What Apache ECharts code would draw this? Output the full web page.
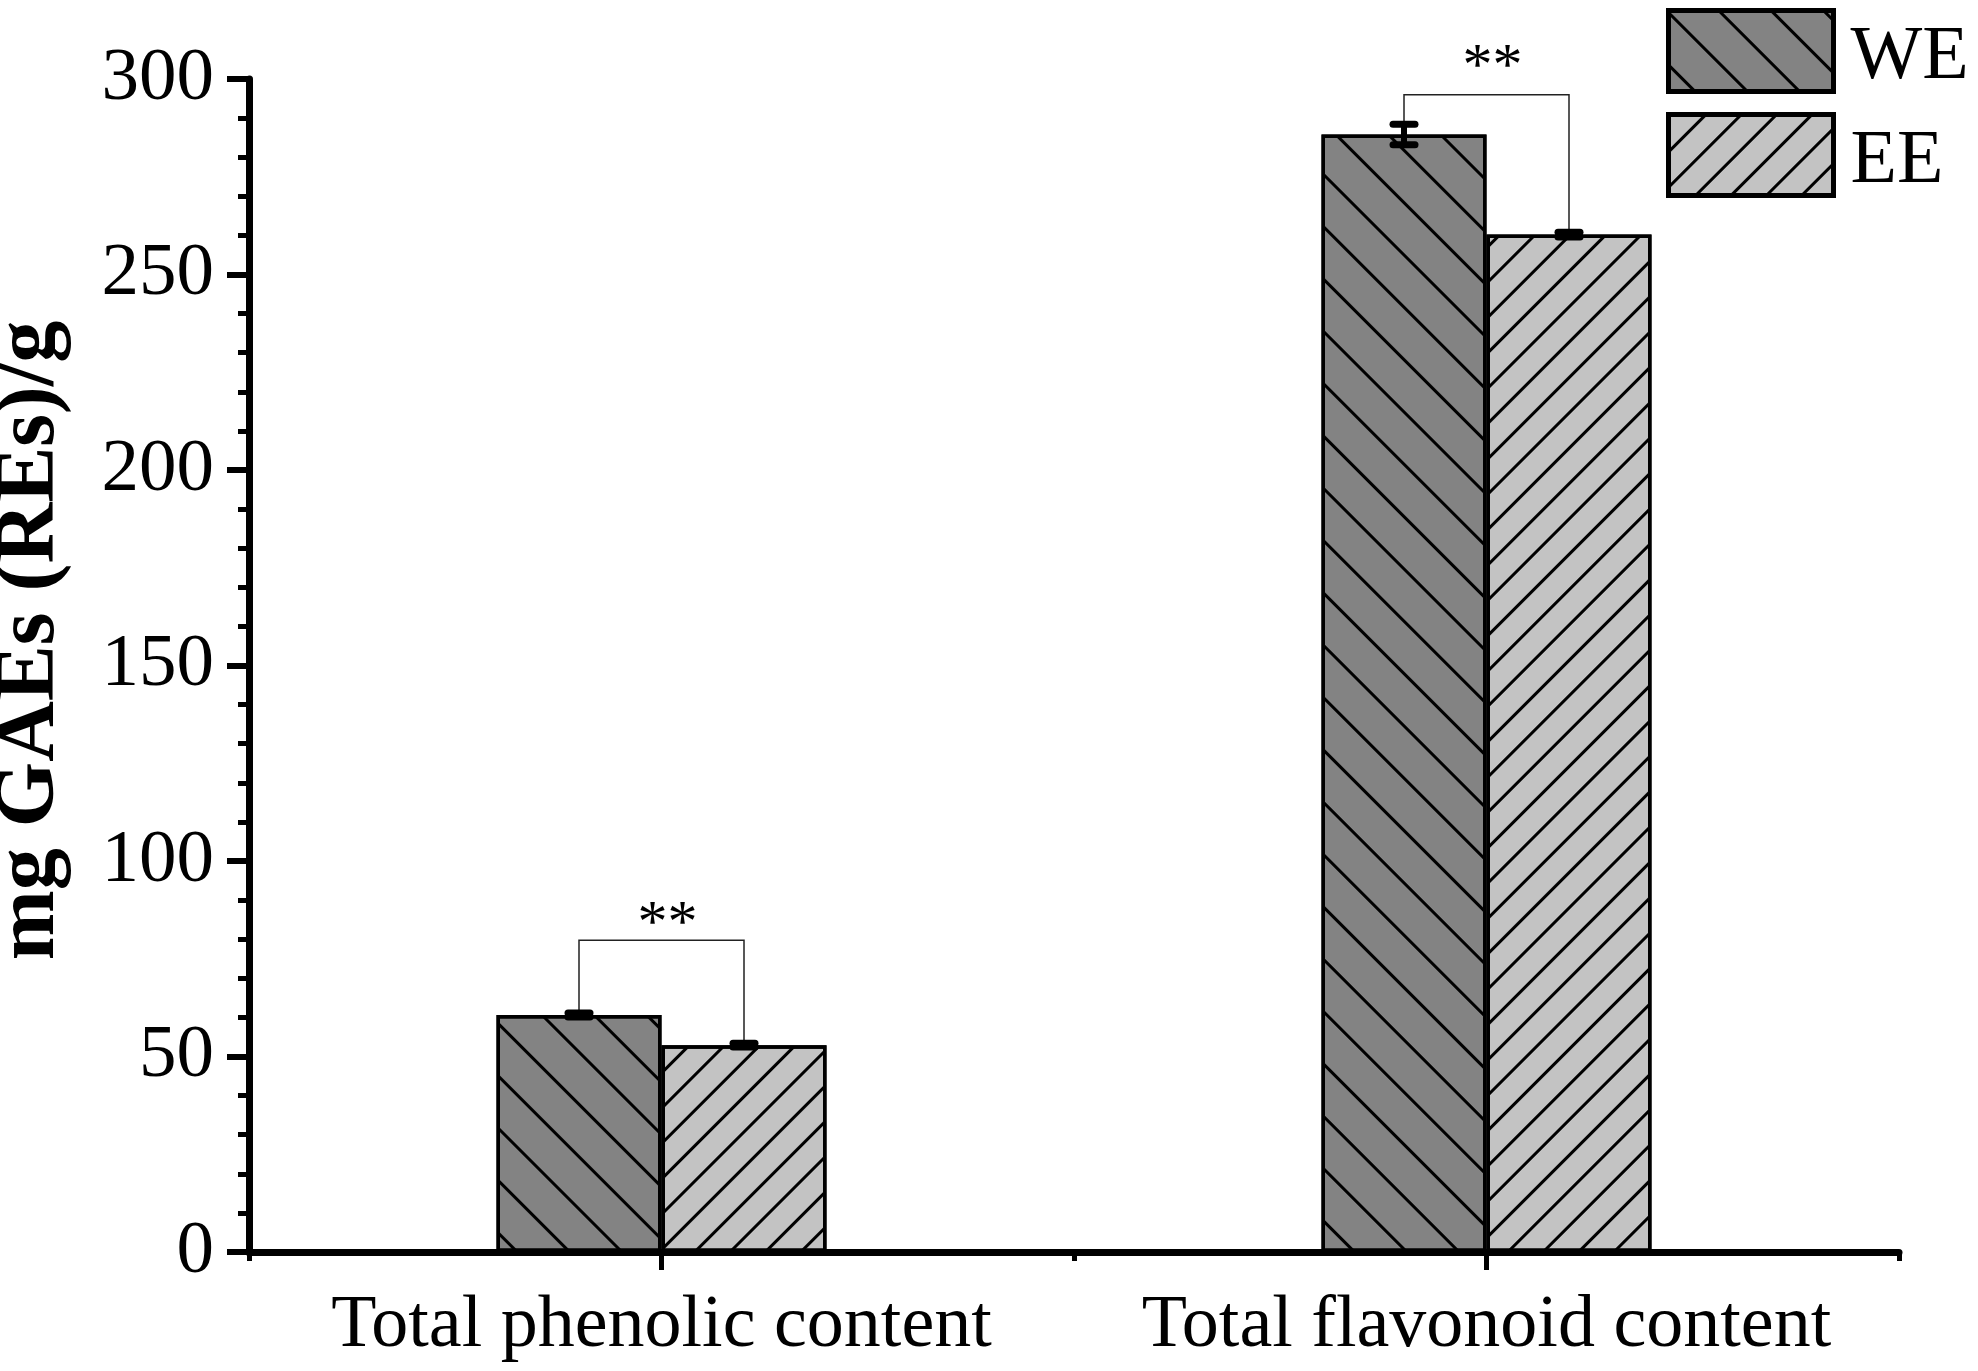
<!DOCTYPE html>
<html>
<head>
<meta charset="utf-8">
<script src="https://cdn.jsdelivr.net/npm/echarts@6/dist/echarts.min.js"></script>
<style>
    html, body { margin: 0; padding: 0; background: #fff; }
    #chart { width: 1978px; height: 1371px; }
</style>
</head>
<body>
<div id="chart"></div>
<script>
    // data
    var categories = ['Total phenolic content', 'Total flavonoid content'];
    var weMean = [60.6, 285.8];
    var weErr = [0.5, 2.6];
    var eeMean = [52.9, 260.2];
    var eeErr = [0.5, 0.6];
    var bracketTop = [79.7, 296];
    var starLevel = [85.6, 304.9];
    var bracketText = ['**', '**'];
    var yTicks = [0, 50, 100, 150, 200, 250, 300];

    var font = "'Liberation Serif', 'Times New Roman', serif";
    var barW = 165;

    var chart = echarts.init(document.getElementById('chart'));

    function errData(mean, err) {
        return mean.map(function (m, i) { return [i, m, err[i]]; });
    }

    // error bar with thick rounded caps, side = -1 (WE) / 1 (EE)
    function errRender(side) {
        return function (params, api) {
            var c = api.value(0), m = api.value(1), e = api.value(2);
            var hi = api.coord([c, m + e]);
            var lo = api.coord([c, m - e]);
            var x = hi[0] + side * barW / 2;
            var cap = 11;
            var st = { stroke: '#000', lineWidth: 7, lineCap: 'round' };
            return {
                type: 'group',
                children: [
                    { type: 'line', shape: { x1: x, y1: hi[1], x2: x, y2: lo[1] }, style: { stroke: '#000', lineWidth: 6 } },
                    { type: 'line', shape: { x1: x - cap, y1: hi[1], x2: x + cap, y2: hi[1] }, style: st },
                    { type: 'line', shape: { x1: x - cap, y1: lo[1], x2: x + cap, y2: lo[1] }, style: st }
                ]
            };
        };
    }

    var bracketData = categories.map(function (c, i) {
        return [i, weMean[i] + weErr[i], eeMean[i] + eeErr[i], bracketTop[i], starLevel[i]];
    });

    chart.setOption({
        animation: false,
        backgroundColor: '#fff',
        textStyle: { fontFamily: font, color: '#000' },
        grid: { left: 249, right: 79, top: 79, bottom: 119, outerBoundsMode: 'none', containLabel: false },
        legend: {
            orient: 'vertical',
            left: 1661,
            top: 3,
            itemWidth: 165,
            itemHeight: 81,
            itemGap: 16,
            icon: 'rect',
            itemStyle: { borderWidth: 5, borderColor: '#000' },
            formatter: '{t|{name}}',
            textStyle: {
                fontFamily: font, fontSize: 76, color: '#000',
                rich: { t: { fontFamily: font, fontSize: 76, color: '#000', padding: [14, 0, 0, 12] } }
            },
            data: ['WE', 'EE']
        },
        xAxis: [
            {
                type: 'category',
                data: categories,
                position: 'bottom',
                axisLine: { lineStyle: { color: '#000', width: 7 } },
                axisTick: { show: true, interval: 0, alignWithLabel: true, length: 18, lineStyle: { color: '#000', width: 5 } },
                axisLabel: { interval: 0, fontFamily: font, fontSize: 74, color: '#000', margin: 38 }
            },
            {
                type: 'category',
                data: categories,
                position: 'bottom',
                axisLine: { show: false },
                axisTick: { show: true, interval: 0, length: 9, lineStyle: { color: '#000', width: 5 } },
                axisLabel: { show: false }
            }
        ],
        yAxis: {
            type: 'value',
            min: yTicks[0],
            max: yTicks[yTicks.length - 1],
            interval: 50,
            name: 'mg GAEs (REs)/g',
            nameLocation: 'middle',
            nameGap: 176,
            nameMoveOverlap: false,
            nameTextStyle: { fontFamily: font, fontSize: 84, fontWeight: 'bold', color: '#000', padding: [0, 0, 0, 50] },
            axisLine: { show: true, lineStyle: { color: '#000', width: 7 } },
            axisTick: { show: true, length: 22, lineStyle: { color: '#000', width: 6 } },
            minorTick: { show: true, splitNumber: 5, length: 11, lineStyle: { color: '#000', width: 5 } },
            splitLine: { show: false },
            axisLabel: { fontFamily: font, fontSize: 75, color: '#000', margin: 35 }
        },
        series: [
            {
                name: 'WE',
                type: 'bar',
                data: weMean,
                barWidth: barW,
                barGap: '0%',
                itemStyle: {
                    color: '#838383',
                    borderColor: '#000',
                    borderWidth: 3.5,
                    decal: { symbol: 'rect', symbolSize: 1, color: '#000', dashArrayX: [10, 0], dashArrayY: [3, 34], rotation: Math.PI / 4 }
                }
            },
            {
                name: 'EE',
                type: 'bar',
                data: eeMean,
                barWidth: barW,
                barGap: '0%',
                itemStyle: {
                    color: '#c3c3c3',
                    borderColor: '#000',
                    borderWidth: 3.5,
                    decal: { symbol: 'rect', symbolSize: 1, color: '#000', dashArrayX: [10, 0], dashArrayY: [3, 22], rotation: -Math.PI / 4 }
                }
            },
            {
                type: 'custom',
                renderItem: errRender(-1),
                data: errData(weMean, weErr),
                z: 5
            },
            {
                type: 'custom',
                renderItem: errRender(1),
                data: errData(eeMean, eeErr),
                z: 5
            },
            {
                type: 'custom',
                z: 4,
                data: bracketData,
                renderItem: function (params, api) {
                    var c = api.value(0);
                    var a = api.coord([c, api.value(1)]);
                    var b = api.coord([c, api.value(2)]);
                    var t = api.coord([c, api.value(3)]);
                    var s = api.coord([c, api.value(4)]);
                    var x1 = a[0] - barW / 2, x2 = a[0] + barW / 2;
                    return {
                        type: 'group',
                        children: [
                            {
                                type: 'polyline',
                                shape: { points: [[x1, a[1]], [x1, t[1]], [x2, t[1]], [x2, b[1]]] },
                                style: { stroke: '#222', lineWidth: 1.5, fill: null }
                            },
                            {
                                type: 'text',
                                style: {
                                    text: bracketText[params.dataIndex],
                                    x: (x1 + x2) / 2 + 6,
                                    y: s[1] + 8,
                                    align: 'center',
                                    verticalAlign: 'middle',
                                    fontFamily: font,
                                    fontSize: 60,
                                    fill: '#000'
                                }
                            }
                        ]
                    };
                }
            }
        ]
    });
</script>
</body>
</html>
